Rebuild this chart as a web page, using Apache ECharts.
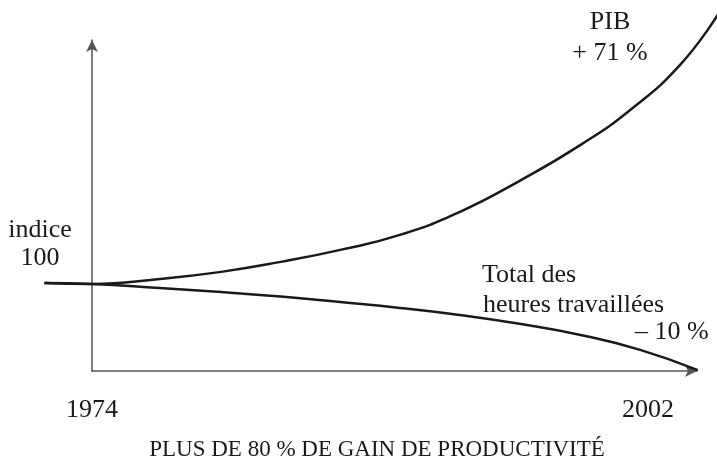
<!DOCTYPE html>
<html>
<head>
<meta charset="utf-8">
<script src="https://cdn.jsdelivr.net/npm/echarts@6/dist/echarts.min.js"></script>
<style>
  html, body { margin: 0; padding: 0; background: #fff; }
  #chart { width: 717px; height: 464px; }
</style>
</head>
<body>
<div id="chart"></div>
<script>
var pibYears = [1971.6, 1974, 1977.4, 1980.5, 1983.5, 1986.5, 1989.5, 1992.5, 1995.6, 1998.6, 2001.1, 2003.6, 2005.5];
var pibIndex = [100, 99.7, 101.4, 103.8, 107.2, 111.3, 116.4, 124.2, 135.1, 147.1, 159.0, 174.3, 191.4];
var heuresYears = [1971.6, 1974, 1977.4, 1980.5, 1983.5, 1986.5, 1989.5, 1992.5, 1995.6, 1998.6, 2001.6, 2004.5];
var heuresIndex = [100, 99.7, 98.3, 96.9, 95.4, 93.5, 91.5, 89.1, 86.0, 82.3, 77.2, 70.3];
var yearLabels = [1974, 2002];

var serif = '"Liberation Serif", "DejaVu Serif", serif';
var ink = '#1a1a1a';

function pairs(xs, ys) {
  return xs.map(function (x, i) { return [x, ys[i]]; });
}

function label(text, x, y, align) {
  return {
    type: 'text', x: x, y: y,
    style: { text: text, font: '26px ' + serif, fill: ink, align: align || 'left', verticalAlign: 'middle' }
  };
}

var chart = echarts.init(document.getElementById('chart'));

chart.setOption({
  animation: false,
  backgroundColor: '#fff',
  title: {
    text: 'PLUS DE 80 % DE GAIN DE PRODUCTIVITÉ',
    left: 372,
    top: 433,
    textAlign: 'center',
    textStyle: { fontFamily: serif, fontWeight: 'normal', fontSize: 23, color: ink }
  },
  // grid 0 carries the visible axes, grid 1 (same scale, wider) carries the curves
  grid: [
    { left: 92, right: 20, top: 40, bottom: 93 },
    { left: 45, right: 0, top: 5, bottom: 93 }
  ],
  xAxis: [
    {
      gridIndex: 0,
      type: 'value',
      min: 1974,
      max: 2004.47,
      axisLine: {
        lineStyle: { color: '#555', width: 1.5 },
        symbol: ['none', 'arrow'],
        symbolSize: [9, 12]
      },
      axisTick: { show: false },
      splitLine: { show: false },
      axisLabel: {
        customValues: yearLabels,
        margin: 26,
        fontFamily: serif,
        fontSize: 26,
        color: ink,
        formatter: function (v) { return String(v); }
      }
    },
    {
      gridIndex: 1,
      type: 'value',
      min: 1971.63,
      max: 2005.47,
      show: false
    }
  ],
  yAxis: [
    {
      gridIndex: 0,
      type: 'value',
      min: 70,
      max: 182.8,
      axisLine: {
        show: true,
        lineStyle: { color: '#555', width: 1.5 },
        symbol: ['none', 'arrow'],
        symbolSize: [9, 12]
      },
      axisTick: { show: false },
      axisLabel: { show: false },
      splitLine: { show: false }
    },
    {
      gridIndex: 1,
      type: 'value',
      min: 70,
      max: 194.79,
      show: false
    }
  ],
  series: [
    {
      name: 'PIB',
      type: 'line',
      xAxisIndex: 1,
      yAxisIndex: 1,
      data: pairs(pibYears, pibIndex),
      smooth: true,
      showSymbol: false,
      lineStyle: { color: ink, width: 2.5 }
    },
    {
      name: 'Total des heures travaillées',
      type: 'line',
      xAxisIndex: 1,
      yAxisIndex: 1,
      data: pairs(heuresYears, heuresIndex),
      smooth: true,
      showSymbol: false,
      lineStyle: { color: ink, width: 2.5 }
    }
  ],
  graphic: [
    label('indice', 40, 230, 'center'),
    label('100', 40, 258, 'center'),
    label('PIB', 610, 22, 'center'),
    label('+ 71 %', 610, 53, 'center'),
    label('Total des', 482, 275),
    label('heures travaillées', 483, 305),
    label('– 10 %', 635, 332)
  ]
});
</script>
</body>
</html>
